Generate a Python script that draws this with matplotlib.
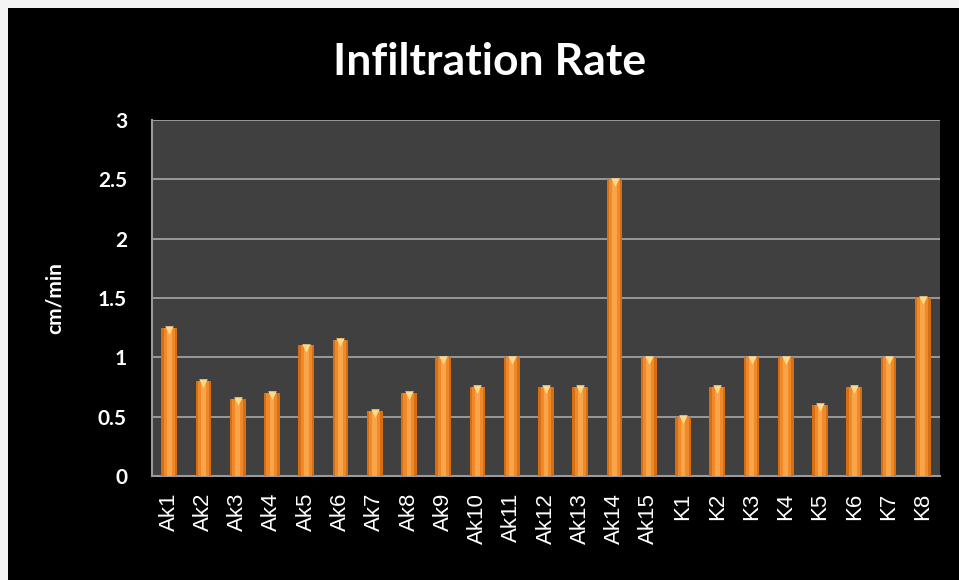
import numpy as np
import matplotlib
matplotlib.use("Agg")
import matplotlib.pyplot as plt

sites = ["Ak1", "Ak2", "Ak3", "Ak4", "Ak5", "Ak6", "Ak7", "Ak8", "Ak9", "Ak10",
         "Ak11", "Ak12", "Ak13", "Ak14", "Ak15",
         "K1", "K2", "K3", "K4", "K5", "K6", "K7", "K8"]
rate = [1.25, 0.8, 0.65, 0.7, 1.1, 1.15, 0.55, 0.7, 1.0, 0.75,
        1.0, 0.75, 0.75, 2.5, 1.0,
        0.5, 0.75, 1.0, 1.0, 0.6, 0.75, 1.0, 1.5]
yticks = [0, 0.5, 1, 1.5, 2, 2.5, 3]

fig = plt.figure(figsize=(9.59, 5.80), dpi=100, facecolor="#f4f4f4")
# black chart area, with the thin light strip at top/left
bg = fig.add_axes([8/959, 0, 1 - 8/959, 1 - 8/580])
bg.set_facecolor("black")
bg.set_xticks([]); bg.set_yticks([])
for s in bg.spines.values():
    s.set_visible(False)

ax = fig.add_axes([152/959, 1 - 476/580, (940 - 152)/959, (476 - 120)/580])
ax.set_facecolor("#404040")

x = np.arange(len(sites))
# cylinder look: dark rim, brighter core, pale cap
ax.bar(x, rate, width=0.46, color="#d86e12", zorder=3)
ax.bar(x, rate, width=0.32, color="#f0892a", zorder=4)
ax.bar(x, rate, width=0.14, color="#f9a64a", zorder=4)
ax.scatter(x, np.array(rate) - 0.02, marker="v", s=38, color="#ffd98a",
           zorder=5, linewidths=0)

ax.set_xlim(-0.5, len(sites) - 0.5)
ax.set_ylim(0, 3)
ax.set_yticks(yticks)
ax.set_yticklabels([f"{t:g}" for t in yticks], color="white",
                   fontsize=15, fontweight="bold", family="Lato")
ax.set_xticks(x)
ax.set_xticklabels(sites, rotation=90, color="white", fontsize=16,
                   family="Liberation Sans")
ax.tick_params(axis="x", length=0, pad=12)
ax.tick_params(axis="y", length=0, pad=18)
ax.grid(axis="y", color="#a8a8a8", linewidth=1.2, zorder=1)
for side in ["top", "right"]:
    ax.spines[side].set_visible(False)
for side in ["left", "bottom"]:
    ax.spines[side].set_color("#9a9a9a")
    ax.spines[side].set_linewidth(1.5)

ax.set_ylabel("cm/min", color="white", fontsize=15, fontweight="bold",
              family="Lato", labelpad=24)
fig.text(490/959, 1 - 62/580, "Infiltration Rate", color="white",
         fontsize=32, fontweight="bold", family="Lato",
         ha="center", va="center")

fig.savefig("out.png", dpi=100, facecolor=fig.get_facecolor())
